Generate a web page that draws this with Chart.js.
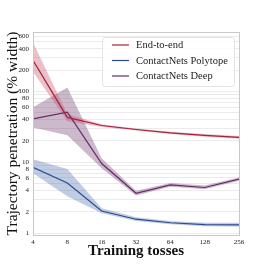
<!DOCTYPE html>
<html>
<head>
<meta charset="utf-8">
<script src="https://cdn.jsdelivr.net/npm/chart.js@4.4.0/dist/chart.umd.min.js"></script>
<style>
  html, body { margin: 0; padding: 0; background: #fff; }
  canvas { display: block; }
</style>
</head>
<body>
<canvas id="myChart" width="266" height="266"></canvas>
<script>
// DADES
const tosses = [4, 8, 16, 32, 64, 128, 256];

const endToEnd   = [275, 43, 33, 29, 26, 24, 22.5];
const endToEndLo = [190, 38, 31.5, 28, 25, 23, 21.5];
const endToEndHi = [490, 48, 34.5, 30, 27, 25, 23.5];

const polytope   = [8.5, 5.1, 2.05, 1.57, 1.4, 1.32, 1.31];
const polytopeLo = [7.0, 3.3, 1.9, 1.48, 1.33, 1.25, 1.24];
const polytopeHi = [11, 8, 2.25, 1.68, 1.48, 1.4, 1.4];

const deep   = [41, 51, 9.6, 3.65, 4.8, 4.4, 5.8];
const deepLo = [31, 24, 8.2, 3.4, 4.5, 4.15, 5.5];
const deepHi = [60, 114, 11.4, 3.95, 5.1, 4.7, 6.1];

const seriesNames = ["End-to-end", "ContactNets Polytope", "ContactNets Deep"];
const lineColors = ["#a8203c", "#2b4a8e", "#682a68"];
const bandColors = ["rgba(200,80,105,0.36)", "rgba(90,120,180,0.38)", "rgba(120,70,120,0.38)"];

const yTickLabels = [1, 2, 4, 6, 8, 10, 20, 40, 60, 80, 100, 200, 400, 600];
const yGrid = [1,2,3,4,5,6,7,8,9,10,20,30,40,50,60,70,80,90,100,200,300,400,500,600];

const serif = "'Liberation Serif', 'DejaVu Serif', serif";

function punts(arr) {
  return arr.map((v, i) => ({ x: tosses[i], y: v }));
}

const mitjanes = [endToEnd, polytope, deep];
const baixos = [endToEndLo, polytopeLo, deepLo];
const alts = [endToEndHi, polytopeHi, deepHi];

let datasets = [];
// bandes primer
for (let i = 0; i < 3; i++) {
  datasets.push({
    label: "hi" + i, data: punts(alts[i]), borderWidth: 0, pointRadius: 0,
    backgroundColor: bandColors[i], fill: "+1", order: 10 + i, tension: 0
  });
  datasets.push({
    label: "lo" + i, data: punts(baixos[i]), borderWidth: 0, pointRadius: 0,
    backgroundColor: bandColors[i], fill: false, order: 10 + i, tension: 0
  });
}
// linies
for (let i = 0; i < 3; i++) {
  datasets.push({
    label: seriesNames[i], data: punts(mitjanes[i]), borderColor: lineColors[i],
    borderWidth: 1.2, pointRadius: 0, fill: false, order: i, tension: 0
  });
}

// llegenda dins del grafic
const llegenda = {
  id: "llegenda",
  afterDraw(chart) {
    const ctx = chart.ctx;
    ctx.save();
    const x0 = 102, y0 = 37, w = 132, h = 49;
    ctx.fillStyle = "rgba(255,255,255,0.85)";
    ctx.strokeStyle = "#e3e3e3";
    ctx.lineWidth = 1;
    ctx.beginPath();
    ctx.roundRect(x0 + 0.5, y0 + 0.5, w, h, 3);
    ctx.fill();
    ctx.stroke();
    ctx.font = "10.5px " + serif;
    ctx.textBaseline = "middle";
    for (let i = 0; i < 3; i++) {
      const yy = 45 + i * 15.5;
      ctx.strokeStyle = lineColors[i];
      ctx.lineWidth = 1.2;
      ctx.beginPath();
      ctx.moveTo(112, yy);
      ctx.lineTo(129, yy);
      ctx.stroke();
      ctx.fillStyle = "#222";
      ctx.fillText(seriesNames[i], 136, yy + 0.5);
    }
    ctx.restore();
  }
};

// marc del grafic
const marc = {
  id: "marc",
  afterDatasetsDraw(chart) {
    const a = chart.chartArea;
    const ctx = chart.ctx;
    ctx.save();
    ctx.strokeStyle = "#c8c8c8";
    ctx.lineWidth = 1;
    ctx.strokeRect(a.left + 0.5, a.top + 0.5, a.right - a.left, a.bottom - a.top);
    ctx.restore();
  }
};

const config = {
  type: "line",
  data: { datasets: datasets },
  options: {
    responsive: false,
    animation: false,
    layout: { padding: { left: 0, top: 32, right: 27, bottom: 0 } },
    plugins: { legend: { display: false }, tooltip: { enabled: false } },
    scales: {
      x: {
        type: "logarithmic",
        min: 4, max: 256,
        afterBuildTicks: (s) => { s.ticks = tosses.map((v) => ({ value: v })); },
        afterFit: (s) => { s.height = 31; },
        grid: { display: false, drawTicks: false, tickLength: 0 },
        border: { color: "#c8c8c8" },
        ticks: {
          autoSkip: false, maxRotation: 0, padding: 3, color: "#222",
          font: { family: serif, size: 7 },
          callback: (v) => String(v)
        },
        title: {
          display: true, text: "Training tosses", color: "#111",
          font: { family: serif, size: 15, weight: "bold" }, padding: { top: 0, bottom: 6 }
        }
      },
      y: {
        type: "logarithmic",
        min: 0.94, max: 690,
        afterBuildTicks: (s) => { s.ticks = yGrid.map((v) => ({ value: v })); },
        afterFit: (s) => { s.width = 33; },
        grid: { color: "#e6e6e6", lineWidth: 0.8, drawTicks: false },
        border: { color: "#c8c8c8" },
        ticks: {
          autoSkip: false, padding: 4, color: "#222",
          font: { family: serif, size: 7 },
          callback: (v) => yTickLabels.includes(v) ? String(v) : ""
        },
        title: {
          display: true, text: "Trajectory penetration (% width)", color: "#111",
          font: { family: serif, size: 15.5 }, padding: { top: 4, bottom: 0 }
        }
      }
    }
  },
  plugins: [marc, llegenda]
};

const myChart = new Chart(document.getElementById("myChart"), config);
</script>
</body>
</html>
